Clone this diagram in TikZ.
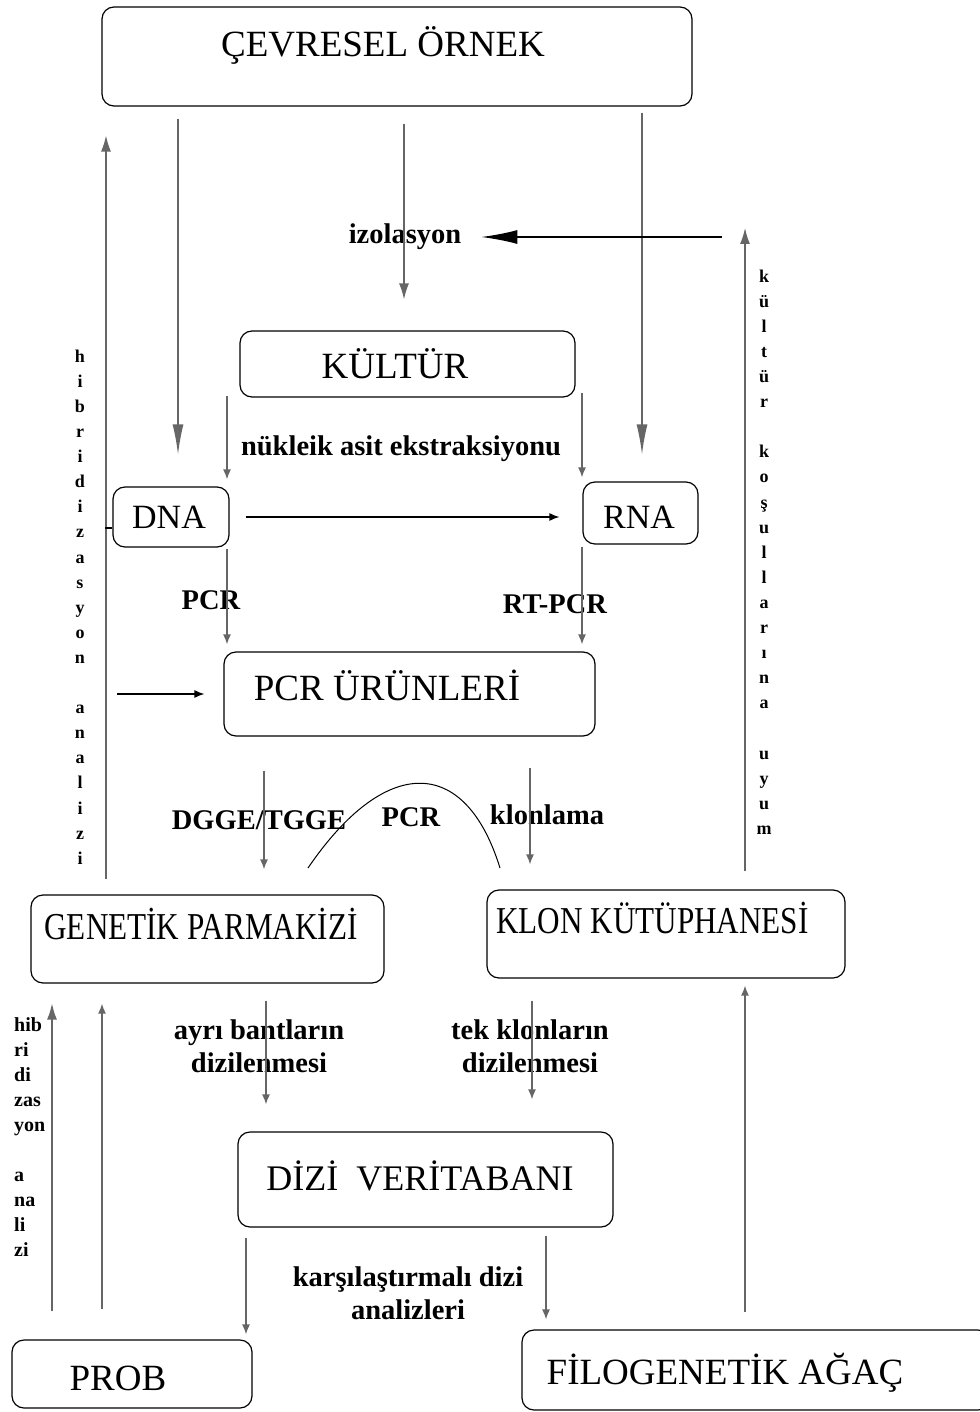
\documentclass[tikz,border=0pt]{standalone}
\usepackage{fontspec}
\setmainfont{Liberation Serif}
\newfontfamily\darfont[FakeStretch=0.82]{Liberation Serif}
\usetikzlibrary{arrows.meta}
\tikzset{
	kutu/.style={draw, rounded corners=12pt, line width=1.2pt, inner sep=0pt},
	baslik/.style={font=\fontsize{37}{40}\selectfont, anchor=base, inner sep=0pt},
	darbaslik/.style={font=\darfont\fontsize{38}{40}\selectfont, anchor=base, inner sep=0pt},
	etiket/.style={font=\bfseries\fontsize{28.5}{33}\selectfont, align=center, inner sep=0pt},
	dikey/.style={font=\bfseries\fontsize{18}{25.1}\selectfont, align=center, inner sep=0pt},
	ok/.style={draw=black!60, line width=1.4pt, -{Latex[length=10pt,width=8pt]}},
	okorta/.style={ok, -{Latex[length=16pt,width=10pt]}},
	okuzun/.style={ok, -{Latex[length=30pt,width=11pt]}},
	okbuyuk/.style={draw=black, line width=1.4pt, -{Latex[length=36pt,width=14pt]}},
	okyatay/.style={draw=black, line width=1.2pt, -{Latex[length=10pt,width=8pt]}}
}
\begin{document}
\begin{tikzpicture}[x=1pt, y=-1pt]
	\useasboundingbox (0,0) rectangle (979,1412);
	% kutular
	\node[kutu, minimum width=590pt, minimum height=99pt] (cevre) at (397,56.5) {};
	\node[kutu, minimum width=335pt, minimum height=66pt] (kultur) at (407.5,364) {};
	\node[kutu, minimum width=116pt, minimum height=60pt] (dna) at (171,517) {};
	\node[kutu, minimum width=115pt, minimum height=62pt] (rna) at (640.5,513) {};
	\node[kutu, minimum width=371pt, minimum height=84pt] (pcr) at (409.5,694) {};
	\node[kutu, minimum width=353pt, minimum height=88pt] (genetik) at (207.5,939) {};
	\node[kutu, minimum width=358pt, minimum height=88pt] (klon) at (666,934) {};
	\node[kutu, minimum width=375pt, minimum height=95pt] (dizi) at (425.5,1179.5) {};
	\node[kutu, minimum width=240pt, minimum height=68pt] (prob) at (132,1374) {};
	\node[kutu, minimum width=468pt, minimum height=80pt] (filo) at (756,1370) {};
	% kutu yazilari
	\node[baslik] (cevreyazi) at (383,57) {ÇEVRESEL ÖRNEK};
	\node[baslik] (kulturyazi) at (395,378) {KÜLTÜR};
	\node[baslik, font=\fontsize{34}{36}\selectfont] (dnayazi) at (169,528) {DNA};
	\node[baslik, font=\fontsize{34}{36}\selectfont] (rnayazi) at (639,528) {RNA};
	\node[baslik] (pcryazi) at (387,700) {PCR ÜRÜNLERİ};
	\node[darbaslik] (genetikyazi) at (201,939) {GENETİK PARMAKİZİ};
	\node[darbaslik] (klonyazi) at (652.5,933) {KLON KÜTÜPHANESİ};
	\node[baslik, font=\fontsize{36}{40}\selectfont] (diziyazi) at (420,1190) {DİZİ\ \ VERİTABANI};
	\node[baslik] (probyazi) at (118,1390) {PROB};
	\node[baslik] (filoyazi) at (725,1384) {FİLOGENETİK AĞAÇ};
	% etiketler
	\node[etiket] (izo) at (405,237) {izolasyon};
	\node[etiket] (nukleik) at (401,449) {nükleik asit ekstraksiyonu};
	\node[etiket] (pcretiket) at (211,600) {PCR};
	\node[etiket] (rtpcr) at (555,604) {RT-PCR};
	\node[etiket] (dgge) at (259,820) {DGGE/TGGE};
	\node[etiket] (pcretiket2) at (411,817) {PCR};
	\node[etiket] (klonlama) at (547,815) {klonlama};
	\node[etiket] (ayri) at (259,1046) {ayrı bantların\\dizilenmesi};
	\node[etiket] (tek) at (530,1046) {tek klonların\\dizilenmesi};
	\node[etiket] (karsi) at (408,1293) {karşılaştırmalı dizi\\analizleri};
	\node[dikey] (hibdikey) at (80,607) {h\\i\\b\\r\\i\\d\\i\\z\\a\\s\\y\\o\\n\\\mbox{}\\a\\n\\a\\l\\i\\z\\i};
	\node[dikey] (kulturdikey) at (764,552) {k\\ü\\l\\t\\ü\\r\\\mbox{}\\k\\o\\ş\\u\\l\\l\\a\\r\\ı\\n\\a\\\mbox{}\\u\\y\\u\\m};
	\node[dikey, font=\bfseries\fontsize{20}{25}\selectfont, align=left, anchor=west] (hibalt) at (14,1137) {hib\\ri\\di\\zas\\yon\\\mbox{}\\a\\na\\li\\zi};
	% ust oklar
	\draw[okuzun, shorten <=12pt, shorten >=32pt] (cevre.south -| 178,0) -- (dna.north -| 178,0);
	\draw[okorta, shorten <=17pt, shorten >=31pt] (cevre.south -| 404,0) -- (kultur.north -| 404,0);
	\draw[okuzun, shorten <=6pt, shorten >=27pt] (cevre.south -| 642,0) -- (rna.north -| 642,0);
	\coordinate (uyumtepe) at (745,228);
	\draw[okorta, shorten <=18pt] (klon.north -| uyumtepe) -- (uyumtepe);
	\draw[okbuyuk, shorten <=23pt, shorten >=20pt] (uyumtepe |- izo.east) -- (izo.east);
	\draw[okorta, shorten <=15pt, shorten >=29pt] (genetik.north -| 106,0) -- (cevre.south -| 106,0);
	\draw[line width=1.2pt] ([yshift=-11pt]dna.west) -- +(-7,0);
	% kultur, dna, rna
	\draw[ok, shorten <=-2pt, shorten >=7pt] (kultur.south -| 227,0) -- (dna.north -| 227,0);
	\draw[ok, shorten <=-5pt, shorten >=4pt] (kultur.south -| 582,0) -- (rna.north -| 582,0);
	\draw[okyatay, shorten <=16pt, shorten >=23pt] (dna.east) -- (dna.east -| rna.west);
	\draw[ok, shorten <=1pt, shorten >=7pt] (dna.south -| 227,0) -- (pcr.north -| 227,0);
	\draw[ok, shorten <=2pt, shorten >=7pt] (rna.south -| 582,0) -- (pcr.north -| 582,0);
	\draw[okyatay, shorten <=11pt, shorten >=19pt] (pcr.west -| 106,0) -- (pcr.west);
	% pcr urunleri
	\draw[ok, shorten <=34pt, shorten >=25pt] (pcr.south -| 264,0) -- (genetik.north -| 264,0);
	\draw[ok, shorten <=31pt, shorten >=25pt] (pcr.south -| 530,0) -- (klon.north -| 530,0);
	\coordinate (egribas) at (308,868);
	\coordinate (egrison) at (500,868);
	\draw[line width=1pt] (egribas) .. controls (385,755) and (465,755) .. (egrison);
	% dizi veritabani
	\draw[ok, shorten <=17pt, shorten >=27pt] (genetik.south -| 266,0) -- (dizi.north -| 266,0);
	\draw[ok, shorten <=22pt, shorten >=32pt] (klon.south -| 532,0) -- (dizi.north -| 532,0);
	\draw[ok, shorten <=10pt, shorten >=5pt] (dizi.south -| 246,0) -- (prob.north -| 246,0);
	\draw[ok, shorten <=8pt, shorten >=10pt] (dizi.south -| 546,0) -- (filo.north -| 546,0);
	% yukari oklar
	\draw[okorta, shorten <=28pt, shorten >=20pt] (prob.north -| 52,0) -- (genetik.south -| 52,0);
	\draw[ok, shorten <=30pt, shorten >=20pt] (prob.north -| 102,0) -- (genetik.south -| 102,0);
	\draw[ok, shorten <=17pt, shorten >=7pt] (filo.north -| 745,0) -- (klon.south -| 745,0);
\end{tikzpicture}
\end{document}
